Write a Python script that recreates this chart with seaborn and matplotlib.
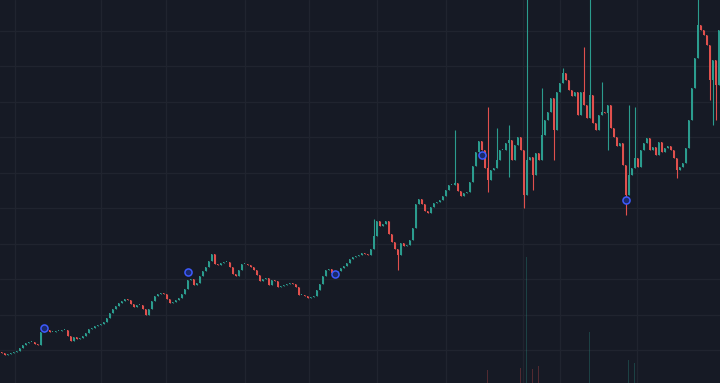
import numpy as np
import pandas as pd
import matplotlib
matplotlib.use("Agg")
import matplotlib.pyplot as plt
import seaborn as sns

# closing prices, one per candle (price units = px from bottom)
closes = [
    30, 28, 29, 30, 31, 32, 35, 38, 40, 41, 41, 39, 38, 51, 55, 53, 51, 51, 52, 52,
    53, 53, 47, 42, 46, 44, 45, 47, 50, 54, 55, 57, 58, 59, 61, 65, 70, 74, 77, 80,
    82, 84, 83, 79, 76, 78, 78, 74, 68, 74, 82, 87, 89, 90, 89, 84, 80, 81, 83, 85,
    89, 94, 103, 104, 98, 100, 107, 112, 116, 122, 129, 119, 118, 120, 121, 121, 116, 109, 107, 113,
    119, 119, 118, 116, 113, 108, 102, 104, 105, 98, 103, 102, 96, 97, 98, 99, 100, 99, 96, 88,
    88, 87, 85, 86, 87, 93, 99, 107, 113, 114, 110, 108, 112, 115, 117, 120, 124, 126, 127, 128,
    130, 129, 128, 134, 147, 162, 157, 159, 162, 149, 141, 134, 128, 140, 137, 138, 143, 155, 179, 184,
    179, 172, 170, 176, 180, 181, 183, 187, 193, 198, 198, 200, 192, 187, 190, 191, 201, 217, 231, 242,
    233, 215, 203, 213, 215, 223, 233, 233, 240, 243, 223, 238, 246, 233, 188, 223, 226, 208, 230, 223,
    248, 263, 271, 285, 253, 291, 300, 310, 303, 293, 287, 291, 268, 291, 278, 265, 288, 260, 253, 268,
    271, 270, 278, 255, 246, 237, 240, 218, 188, 208, 215, 225, 216, 233, 240, 245, 233, 236, 228, 241,
    231, 235, 237, 233, 225, 213, 216, 220, 235, 263, 295, 325, 358, 353, 348, 338, 303, 323, 298, 353,
]
first_open = 31

# long wicks (candle index, high, low); nan = no extra wick
wick_idx = [124, 132, 151, 162, 165, 169, 174, 175, 177, 180, 184, 187, 194, 196,
            200, 202, 208, 209, 211, 225, 232, 236, 237, 238]
wick_hi = [164, np.nan, 253, 276, 255, 258, np.nan, 388, np.nan, 295, np.nan, 315, 336, 388,
           301, np.nan, np.nan, 278, 276, np.nan, 388, np.nan, np.nan, np.nan]
wick_lo = [np.nan, 113, np.nan, 191, np.nan, 206, 175, np.nan, 193, np.nan, 223, np.nan, np.nan, np.nan,
           np.nan, 233, 168, np.nan, np.nan, 205, np.nan, 283, 258, 263]

# signal markers
marker_idx = [14, 62, 111, 160, 208]
marker_price = [55, 111, 109, 228, 183]

# volume spikes (everything else ~0)
vol_idx = [162, 173, 175, 177, 179, 196, 209, 211]
vol_value = [13, 15, 126, 14, 17, 51, 23, 20]

# grid positions (time grid is irregular)
grid_x = [4.5, 33.2, 54.8, 81.2, 102.5, 125.2, 148.2, 173.8, 186.2, 211.8]
grid_y = [33, 68.5, 104, 139.5, 175, 210.5, 246, 281.5, 317, 352.5]

BG = "#161a25"
GRID = "#20242f"
UP = "#2b9c8e"
DOWN = "#e0504d"

n = len(closes)
df = pd.DataFrame({"close": closes})
df["open"] = [first_open] + closes[:-1]
df["high"] = df[["open", "close"]].max(axis=1).astype(float)
df["low"] = df[["open", "close"]].min(axis=1).astype(float)
for i, hi, lo in zip(wick_idx, wick_hi, wick_lo):
    if not np.isnan(hi):
        df.loc[i, "high"] = hi
    if not np.isnan(lo):
        df.loc[i, "low"] = lo
df["up"] = df["close"] >= df["open"]
df["color"] = np.where(df["up"], UP, DOWN)
colors = df["color"].tolist()

sns.set_style("dark", {"axes.facecolor": BG, "figure.facecolor": BG})

fig = plt.figure(figsize=(7.2, 3.83), dpi=100)
ax = fig.add_axes([0, 0, 1, 1])
ax.set_facecolor(BG)
fig.patch.set_facecolor(BG)

for x in grid_x:
    ax.axvline(x, color=GRID, lw=1, zorder=0)
for y in grid_y:
    ax.axhline(y, color=GRID, lw=1, zorder=0)

# volume, faint bars at the bottom
vol = np.zeros(n)
vol[vol_idx] = vol_value
ax.bar(df.index, vol, width=0.35, color=colors, alpha=0.3, linewidth=0, zorder=1)

ax.vlines(df.index, df["low"], df["high"], colors=colors, lw=0.8, zorder=2)
body = (df["close"] - df["open"]).abs().clip(lower=0.8)
ax.bar(df.index, body, bottom=df[["open", "close"]].min(axis=1), width=0.55,
       color=colors, linewidth=0, zorder=3)

mk = pd.DataFrame({"i": marker_idx, "p": marker_price})
sns.scatterplot(data=mk, x="i", y="p", ax=ax, s=26, facecolor="#1b2a6b",
                edgecolor="#3d5afe", linewidth=1.1, zorder=4, legend=False)

ax.set_xlim(-0.5, n - 0.5)
ax.set_ylim(0, 383)
ax.set_xticks([])
ax.set_yticks([])
ax.set_xlabel("")
ax.set_ylabel("")
for s in ax.spines.values():
    s.set_visible(False)

fig.savefig("out.png", dpi=100, facecolor=BG)
